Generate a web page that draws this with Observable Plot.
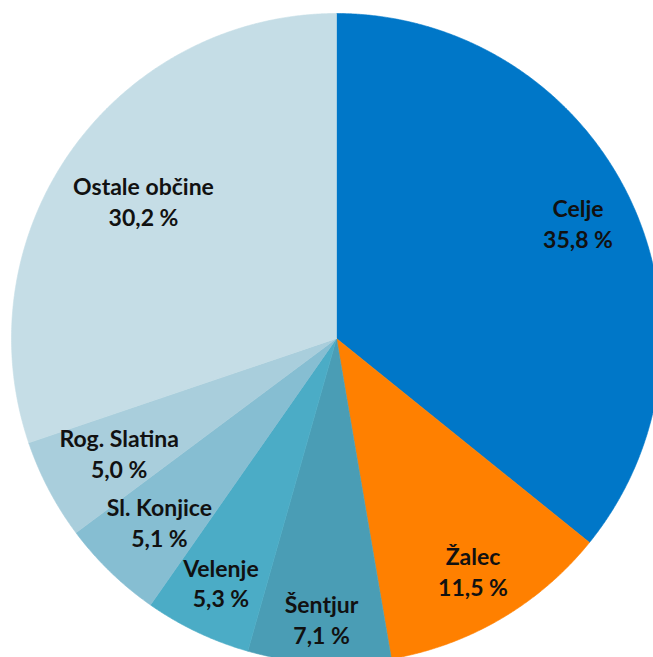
<!DOCTYPE html>
<html><head><meta charset="utf-8">
<script src="https://cdn.jsdelivr.net/npm/d3@7"></script>
<script src="https://cdn.jsdelivr.net/npm/@observablehq/plot@0.6"></script>
<style>html,body{margin:0;padding:0;background:#fff;overflow:hidden}</style>
</head><body><div id="chart"></div>
<script>
// Data (clockwise from 12 o'clock)
const names = ["Celje", "Žalec", "Šentjur", "Velenje", "Sl. Konjice", "Rog. Slatina", "Ostale občine"];
const shares = [35.8, 11.5, 7.1, 5.3, 5.1, 5.0, 30.2];
const colors = ["#0077C8", "#FF8000", "#4A9DB5", "#4BACC6", "#86BED2", "#A9CEDC", "#C5DDE6"];

// Layout
const W = 653, H = 657;
const CX = 336, CY = 338, RPX = 325;   // pie centre / radius in pixels
const FONT_SIZE = 23, LINE_H = 31 / 23, FONT = "Lato";
const PAD = 14;                         // label inset from rim (px)

const total = d3.sum(shares);
const fmt = v => v.toFixed(1).replace(".", ",") + " %";

// slice polygons in data units (radius = 1)
const pts = [];
const slices = [];
let acc = 0;
names.forEach((name, i) => {
  const a0 = acc / total * 2 * Math.PI;
  acc += shares[i];
  const a1 = acc / total * 2 * Math.PI;
  slices.push({name, color: colors[i], a0, a1, mid: (a0 + a1) / 2, label: name + "\n" + fmt(shares[i])});
  pts.push({name, color: colors[i], x: 0, y: 0});
  const n = Math.max(4, Math.ceil((a1 - a0) / 0.005));
  for (let k = 0; k <= n; k++) {
    const a = a0 + (a1 - a0) * k / n;
    pts.push({name, color: colors[i], x: Math.sin(a), y: Math.cos(a)});
  }
  pts.push({name, color: colors[i], x: 0, y: 0});
});

// label placement: "inside end" — farthest box corner sits PAD px inside rim
const ctx = document.createElement("canvas").getContext("2d");
ctx.font = `bold ${FONT_SIZE}px ${FONT}`;
const labels = slices.map(s => {
  const lines = s.label.split("\n");
  const w = d3.max(lines, l => ctx.measureText(l).width) / RPX;
  const h = (FONT_SIZE * LINE_H * (lines.length - 1) + FONT_SIZE * 1.0) / RPX;
  const ux = Math.sin(s.mid), uy = Math.cos(s.mid);
  const target = (RPX - PAD) / RPX;
  const far = d => Math.hypot(d * ux + Math.sign(ux) * w / 2, d * uy + Math.sign(uy) * h / 2);
  let lo = 0, hi = 1;
  for (let k = 0; k < 60; k++) { const m = (lo + hi) / 2; if (far(m) > target) hi = m; else lo = m; }
  return {text: s.label, x: lo * ux, y: lo * uy};
});

const chart = Plot.plot({
  width: W, height: H,
  margin: 0,
  x: {domain: [-CX / RPX, (W - CX) / RPX], range: [0, W], axis: null},
  y: {domain: [-(H - CY) / RPX, CY / RPX], range: [H, 0], axis: null},
  color: {type: "identity"},
  style: {background: "white"},
  marks: [
    Plot.line(pts, {x: "x", y: "y", z: "name", fill: "color", stroke: "color", strokeWidth: 0.6, curve: "linear", clip: true}),
    Plot.text(labels, {x: "x", y: "y", text: "text", fontSize: FONT_SIZE, fontWeight: "bold",
      fontFamily: FONT, fill: "#111", lineHeight: LINE_H, textAnchor: "middle", lineAnchor: "middle"})
  ]
});
document.getElementById("chart").appendChild(chart);
</script>
</body></html>
